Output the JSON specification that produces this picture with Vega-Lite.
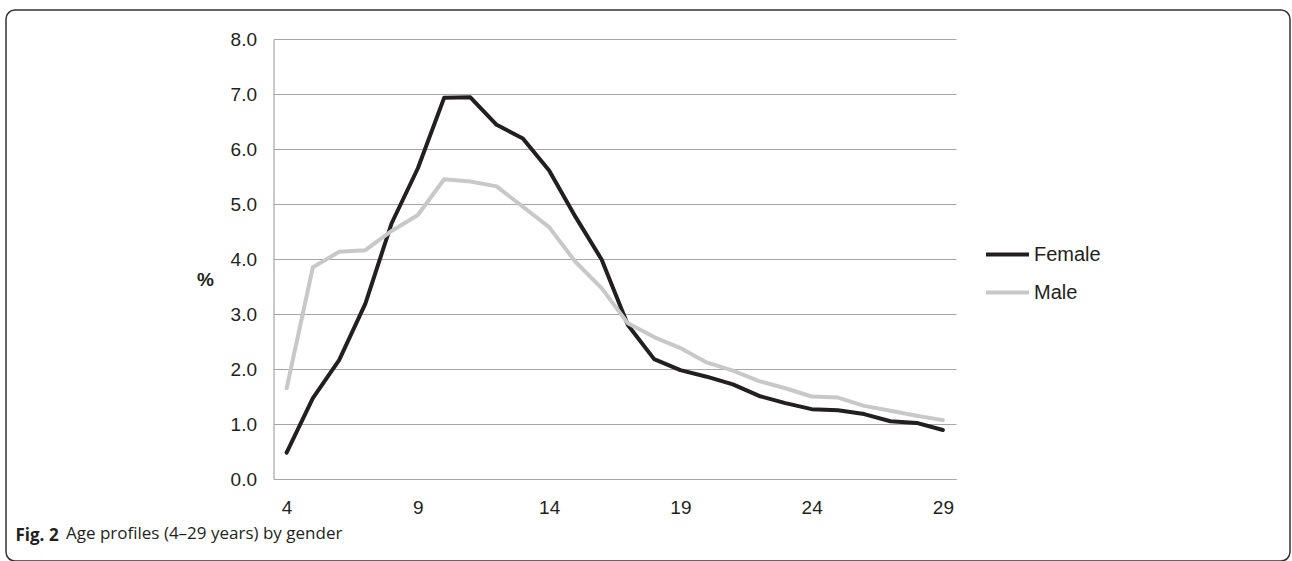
{
  "$schema": "https://vega.github.io/schema/vega-lite/v6.json",
  "autosize": {"type": "none"},
  "padding": {"left": 6, "top": 10, "right": 2, "bottom": 0},
  "width": 1284,
  "height": 551,
  "background": "white",
  "config": {
    "view": {"stroke": "#333333", "strokeWidth": 1.5, "cornerRadius": 9},
    "font": "Liberation Sans"
  },
  "title": {
    "text": "Age profiles (4–29 years) by gender",
    "orient": "bottom",
    "anchor": "start",
    "frame": "group",
    "offset": 0,
    "dx": 60,
    "dy": -22,
    "baseline": "alphabetic",
    "font": "Open Sans",
    "fontSize": 17,
    "fontWeight": "normal",
    "color": "#231f20"
  },
  "data": {
    "values": [
      {"age": 4, "gender": "Female", "pct": 0.48},
      {"age": 5, "gender": "Female", "pct": 1.47},
      {"age": 6, "gender": "Female", "pct": 2.16},
      {"age": 7, "gender": "Female", "pct": 3.19},
      {"age": 8, "gender": "Female", "pct": 4.65},
      {"age": 9, "gender": "Female", "pct": 5.65},
      {"age": 10, "gender": "Female", "pct": 6.93},
      {"age": 11, "gender": "Female", "pct": 6.94},
      {"age": 12, "gender": "Female", "pct": 6.44},
      {"age": 13, "gender": "Female", "pct": 6.19},
      {"age": 14, "gender": "Female", "pct": 5.61},
      {"age": 15, "gender": "Female", "pct": 4.77},
      {"age": 16, "gender": "Female", "pct": 3.99},
      {"age": 17, "gender": "Female", "pct": 2.8},
      {"age": 18, "gender": "Female", "pct": 2.18},
      {"age": 19, "gender": "Female", "pct": 1.98},
      {"age": 20, "gender": "Female", "pct": 1.86},
      {"age": 21, "gender": "Female", "pct": 1.72},
      {"age": 22, "gender": "Female", "pct": 1.51},
      {"age": 23, "gender": "Female", "pct": 1.38},
      {"age": 24, "gender": "Female", "pct": 1.27},
      {"age": 25, "gender": "Female", "pct": 1.25},
      {"age": 26, "gender": "Female", "pct": 1.18},
      {"age": 27, "gender": "Female", "pct": 1.05},
      {"age": 28, "gender": "Female", "pct": 1.02},
      {"age": 29, "gender": "Female", "pct": 0.89},
      {"age": 4, "gender": "Male", "pct": 1.65},
      {"age": 5, "gender": "Male", "pct": 3.85},
      {"age": 6, "gender": "Male", "pct": 4.13},
      {"age": 7, "gender": "Male", "pct": 4.16},
      {"age": 8, "gender": "Male", "pct": 4.51},
      {"age": 9, "gender": "Male", "pct": 4.8},
      {"age": 10, "gender": "Male", "pct": 5.45},
      {"age": 11, "gender": "Male", "pct": 5.41},
      {"age": 12, "gender": "Male", "pct": 5.32},
      {"age": 13, "gender": "Male", "pct": 4.95},
      {"age": 14, "gender": "Male", "pct": 4.58},
      {"age": 15, "gender": "Male", "pct": 3.95},
      {"age": 16, "gender": "Male", "pct": 3.47},
      {"age": 17, "gender": "Male", "pct": 2.83},
      {"age": 18, "gender": "Male", "pct": 2.58},
      {"age": 19, "gender": "Male", "pct": 2.38},
      {"age": 20, "gender": "Male", "pct": 2.12},
      {"age": 21, "gender": "Male", "pct": 1.97},
      {"age": 22, "gender": "Male", "pct": 1.78},
      {"age": 23, "gender": "Male", "pct": 1.65},
      {"age": 24, "gender": "Male", "pct": 1.5},
      {"age": 25, "gender": "Male", "pct": 1.48},
      {"age": 26, "gender": "Male", "pct": 1.33},
      {"age": 27, "gender": "Male", "pct": 1.24},
      {"age": 28, "gender": "Male", "pct": 1.15},
      {"age": 29, "gender": "Male", "pct": 1.07}
    ]
  },
  "mark": {"type": "line", "strokeWidth": 4, "strokeJoin": "round", "strokeCap": "round"},
  "encoding": {
    "x": {
      "field": "age",
      "type": "quantitative",
      "scale": {"domain": [3.5, 29.5], "range": [267.5, 950], "nice": false, "zero": false},
      "axis": {
        "values": [4, 9, 14, 19, 24, 29],
        "orient": "bottom",
        "offset": -82,
        "grid": false,
        "ticks": false,
        "domain": true,
        "domainColor": "#a6a6a6",
        "domainWidth": 1.2,
        "labelFlush": false,
        "labelFontSize": 19,
        "labelColor": "#231f20",
        "labelPadding": 19,
        "title": "Fig. 2",
        "titleFont": "Open Sans",
        "titleFontSize": 17,
        "titleFontWeight": "bold",
        "titleColor": "#231f20",
        "titleAlign": "left",
        "titleAnchor": "start",
        "titleBaseline": "alphabetic",
        "titleX": 9,
        "titleY": 61
      }
    },
    "y": {
      "field": "pct",
      "type": "quantitative",
      "scale": {"domain": [0, 8], "range": [469, 29], "nice": false, "zero": true},
      "axis": {
        "values": [0, 1, 2, 3, 4, 5, 6, 7, 8],
        "format": ".1f",
        "offset": -267.5,
        "grid": true,
        "gridColor": "#a6a6a6",
        "gridWidth": 1.2,
        "ticks": false,
        "domain": true,
        "domainColor": "#a6a6a6",
        "domainWidth": 1.2,
        "labelFlush": false,
        "labelFontSize": 19,
        "labelColor": "#231f20",
        "labelPadding": 17,
        "title": "%",
        "titleAngle": 0,
        "titleFontSize": 19,
        "titleFontWeight": "bold",
        "titleColor": "#231f20",
        "titleAlign": "center",
        "titleBaseline": "middle",
        "titleX": -68.5,
        "titleY": 269
      }
    },
    "color": {
      "field": "gender",
      "type": "nominal",
      "scale": {"domain": ["Female", "Male"], "range": ["#231f20", "#c8c8c8"]},
      "legend": {
        "title": null,
        "orient": "none",
        "legendX": 978,
        "legendY": 221,
        "symbolType": "stroke",
        "symbolSize": 1849,
        "symbolStrokeWidth": 4,
        "labelOffset": 3,
        "labelFontSize": 20,
        "labelColor": "#231f20",
        "rowPadding": 4,
        "padding": 0
      }
    }
  }
}
